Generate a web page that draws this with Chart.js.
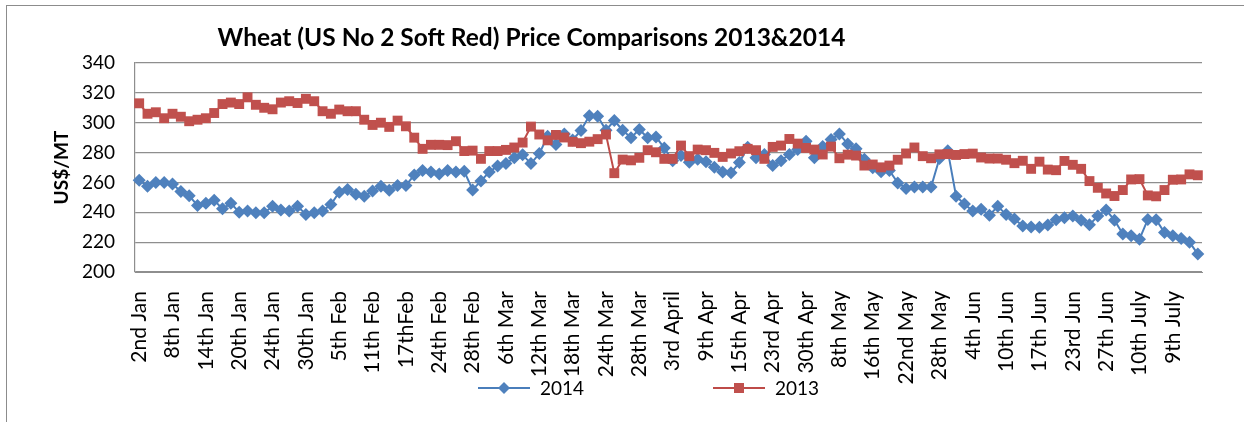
<!DOCTYPE html>
<html><head><meta charset="utf-8">
<script src="https://cdn.jsdelivr.net/npm/chart.js@4.4.1/dist/chart.umd.min.js"></script>
<style>html,body{margin:0;padding:0;background:#fff;overflow:hidden}canvas{display:block}</style>
</head><body>
<canvas id="c" width="1244" height="422"></canvas>
<script>
const chartTitle = 'Wheat (US No 2 Soft Red) Price Comparisons 2013&2014';
const yAxisTitle = 'US$/MT';
const seriesNames = ['2014', '2013'];
const tickLabels = ['2nd Jan','8th Jan','14th Jan','20th Jan','24th Jan','30th Jan','5th Feb','11th Feb','17thFeb','24th Feb','28th Feb','6th Mar','12th Mar','18th Mar','24th Mar','28th Mar','3rd April','9th Apr','15th Apr','23rd Apr','30th Apr','8th May','16th May','22nd May','28th May','4th Jun','10th Jun','17th Jun','23rd Jun','27th Jun','10th July','9th July'];
const price2014 = [261.5,257.5,260,260,259,254,251,244.6,246,248,242.3,246,240,240.8,239.7,239.7,244,241.5,240.8,244,238.6,239.7,240.8,245.2,253.5,255.3,252,250.8,254.2,257.5,254.8,258,258,265,268,267,265.7,268,267,267.5,255,261,267,271,272.6,276.5,278.5,272.6,279.3,291,285.4,292.4,288.4,294.8,304.6,304.4,295,301.5,295,290,295.5,290,290.5,283,274.5,278,273.5,275.5,273.8,270.2,267,266.5,273.3,283.5,276.5,278.7,271.3,274.6,278.7,282,287.6,276.5,284,288.7,292.5,285.7,282.5,275.6,269.8,267.2,268,259.7,256,257,257,257,276,281.3,250.8,245.6,240.8,242,238,244,238.6,235.5,230.8,230.2,230,231.4,235,236.4,237.5,234.7,231.6,237.5,241.5,234.7,225.5,224.3,222,235.2,235,226.4,224.3,222.4,220,212];
const price2013 = [313,306,307,303,306,304,301,302,303,306.5,312.5,313.5,312.5,317,312,310,309,313.5,314.4,313.2,316,314.4,307.7,306,308.8,307.7,307.7,302,298.5,300,297.2,301.4,297.6,290,282.5,285.2,285.2,285,287.6,281,281.3,275.8,281,281,281.8,283.4,286.7,297.4,292.1,288.2,291.8,290.1,287.2,286.3,287.3,289,292.1,266.2,275.3,274.8,276.5,281.6,280.2,275.8,275.8,284.7,277.6,282,281.6,279.8,277.1,279.4,280.9,282.5,281.6,275.8,283.8,284.7,289.1,286,283.1,282,278.7,284,276.2,278.6,278,271.3,272,270.1,271.3,275.2,279.4,283.4,277.6,276.2,278.8,279,278.4,279,279.3,276.7,276,276,275.2,272.9,274.5,269.1,273.9,268.6,268.2,274.4,271.8,269.1,260.9,256.4,252.6,250.9,254.9,262,262.2,251.3,250.7,254.9,261.8,262,265.4,264.8];
const yMin = 200, yMax = 340, yStep = 20;

const categories = price2014.map((_, i) => (i % 4 === 0 ? tickLabels[i / 4] : ''));

const BLUE_LINE = '#4a7ebb', BLUE_FILL = '#4f81bd';
const RED_LINE = '#be4b48', RED_FILL = '#c0504d';
const GRID = '#8e8e8e';
const FONT = 'Lato, "Open Sans", sans-serif';

const decorPlugin = {
  id: 'decor',
  beforeDraw(chart) {
    const ctx = chart.ctx;
    ctx.save();
    ctx.fillStyle = '#fff';
    ctx.fillRect(0, 0, chart.width, chart.height);
    ctx.strokeStyle = '#8c8c8c';
    ctx.lineWidth = 1;
    ctx.strokeRect(6.5, 5.5, chart.width + 20, chart.height + 20);
    ctx.restore();
  },
  afterDraw(chart) {
    const ctx = chart.ctx;
    ctx.save();
    ctx.fillStyle = '#000';
    ctx.font = 'bold 24.5px ' + FONT;
    ctx.textAlign = 'center';
    ctx.textBaseline = 'alphabetic';
    ctx.fillText(chartTitle, 531.5, 46);
    const items = [
      {name: seriesNames[0], x: 478, line: BLUE_LINE, fill: BLUE_FILL, shape: 'diamond'},
      {name: seriesNames[1], x: 713, line: RED_LINE, fill: RED_FILL, shape: 'square'}
    ];
    const ly = 388;
    ctx.font = '19px ' + FONT;
    ctx.textAlign = 'left';
    ctx.textBaseline = 'middle';
    items.forEach(it => {
      ctx.strokeStyle = it.line;
      ctx.lineWidth = 2;
      ctx.beginPath(); ctx.moveTo(it.x, ly); ctx.lineTo(it.x + 52, ly); ctx.stroke();
      const cx = it.x + 26;
      ctx.fillStyle = it.fill;
      ctx.beginPath();
      if (it.shape === 'diamond') {
        ctx.moveTo(cx, ly - 6); ctx.lineTo(cx + 6, ly); ctx.lineTo(cx, ly + 6); ctx.lineTo(cx - 6, ly); ctx.closePath();
      } else {
        ctx.rect(cx - 5, ly - 5, 10, 10);
      }
      ctx.fill();
      ctx.fillStyle = '#000';
      ctx.fillText(it.name, it.x + 62, ly + 1);
    });
    ctx.restore();
  }
};

new Chart(document.getElementById('c'), {
  type: 'line',
  data: {
    labels: categories,
    datasets: [
      {label: seriesNames[0], data: price2014, order: 1, borderColor: BLUE_LINE, backgroundColor: BLUE_FILL,
       borderWidth: 2, pointStyle: 'rectRot', pointRadius: 6.5, pointBorderWidth: 0, pointBackgroundColor: BLUE_FILL, tension: 0},
      {label: seriesNames[1], data: price2013, order: 0, borderColor: RED_LINE, backgroundColor: RED_FILL,
       borderWidth: 2, pointStyle: 'rect', pointRadius: 7, pointBorderWidth: 0, pointBackgroundColor: RED_FILL, tension: 0}
    ]
  },
  options: {
    responsive: false,
    animation: false,
    events: [],
    layout: {padding: {left: 0, right: 42, top: 63, bottom: 0}},
    plugins: {legend: {display: false}, title: {display: false}, tooltip: {enabled: false}},
    scales: {
      x: {
        type: 'category',
        offset: true,
        grid: {display: false},
        border: {display: true, color: GRID, width: 1},
        ticks: {autoSkip: false, minRotation: 90, maxRotation: 90, padding: 11, color: '#000', font: {family: FONT, size: 21}},
        afterFit: s => { s.height = 150; }
      },
      y: {
        min: yMin, max: yMax,
        grid: {color: GRID, lineWidth: 1.2, drawTicks: false},
        border: {display: true, color: GRID, width: 1.2},
        ticks: {stepSize: yStep, padding: 20, color: '#000', font: {family: FONT, size: 19}},
        title: {display: true, text: yAxisTitle, color: '#000', font: {family: FONT, size: 19, weight: 'bold'}, padding: {top: 50, bottom: 0}},
        afterFit: s => { s.width = 135; }
      }
    }
  },
  plugins: [decorPlugin]
});
</script>
</body></html>
